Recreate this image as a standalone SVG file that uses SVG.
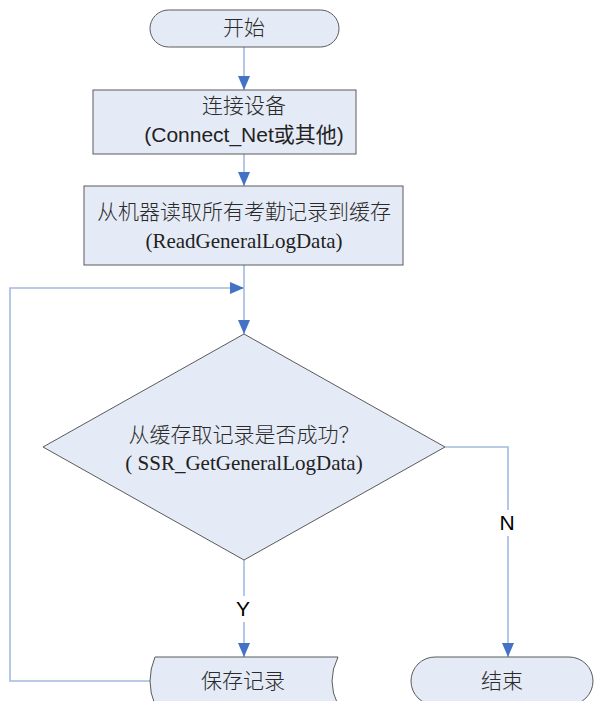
<svg xmlns="http://www.w3.org/2000/svg" width="594" height="701" viewBox="0 0 594 701">
<defs>
<marker id="arr" markerUnits="userSpaceOnUse" markerWidth="14" markerHeight="12" refX="14" refY="6" orient="auto">
<path d="M0,0 L14,6 L0,12 z" fill="#4472C4"/>
</marker>
<style>
.shape{fill:#E5EBF6;stroke:#5A5A5A;stroke-width:1}
.conn{fill:none;stroke:#A3BAE0;stroke-width:1.6}
.cjk{font-family:"Noto Sans CJK SC","Liberation Serif",serif;font-size:21px;font-weight:300;fill:#2a2a2a;text-anchor:middle}
.ser{font-family:"Liberation Serif","Noto Sans CJK SC",serif;font-size:21px;fill:#222;text-anchor:middle}
.san{font-family:"Liberation Sans","Noto Sans CJK SC",sans-serif;font-size:21px;fill:#222;text-anchor:middle}
.lbl{font-family:"Liberation Sans",sans-serif;font-size:21px;fill:#000;text-anchor:middle}
</style>
</defs>
<g id="connectors">
<line class="conn" x1="244" y1="47" x2="244" y2="90" marker-end="url(#arr)"/>
<line class="conn" x1="244" y1="154" x2="244" y2="186" marker-end="url(#arr)"/>
<line class="conn" x1="244" y1="265" x2="244" y2="334" marker-end="url(#arr)"/>
<polyline class="conn" points="150,681 10,681 10,288 244,288" marker-end="url(#arr)"/>
<line class="conn" x1="244" y1="560" x2="244" y2="657" marker-end="url(#arr)"/>
<polyline class="conn" points="445,447 508,447 508,657" marker-end="url(#arr)"/>
<rect x="234" y="596" width="20" height="26" fill="#fff"/>
<text class="lbl" x="243" y="616">Y</text>
<rect x="496" y="510" width="22" height="26" fill="#fff"/>
<text class="lbl" x="507" y="530">N</text>
</g>
<g id="start">
<rect class="shape" x="150" y="10" width="189" height="37" rx="18.5" ry="18.5"/>
<text class="cjk" x="244" y="35">开始</text>
</g>
<g id="connect">
<rect class="shape" x="93" y="90" width="263" height="64"/>
<text class="cjk" x="244" y="113">连接设备</text>
<text class="san" x="244" y="142">(Connect_Net或其他)</text>
</g>
<g id="read">
<rect class="shape" x="84" y="186" width="319" height="79"/>
<text class="cjk" x="244" y="219">从机器读取所有考勤记录到缓存</text>
<text class="ser" x="244" y="248">(ReadGeneralLogData)</text>
</g>
<g id="decision">
<polygon class="shape" points="244,334 445,447 244,560 43,447"/>
<text class="cjk" x="244" y="442">从缓存取记录是否成功？</text>
<text class="ser" x="244" y="470">( SSR_GetGeneralLogData)</text>
</g>
<g id="save">
<path class="shape" d="M155,657 L338,657 Q326,681 338,705 L155,705 Q145,681 155,657 Z"/>
<text class="cjk" x="243" y="688">保存记录</text>
</g>
<g id="end">
<rect class="shape" x="411" y="657" width="182" height="48" rx="24" ry="24"/>
<text class="cjk" x="502" y="688">结束</text>
</g>
</svg>
